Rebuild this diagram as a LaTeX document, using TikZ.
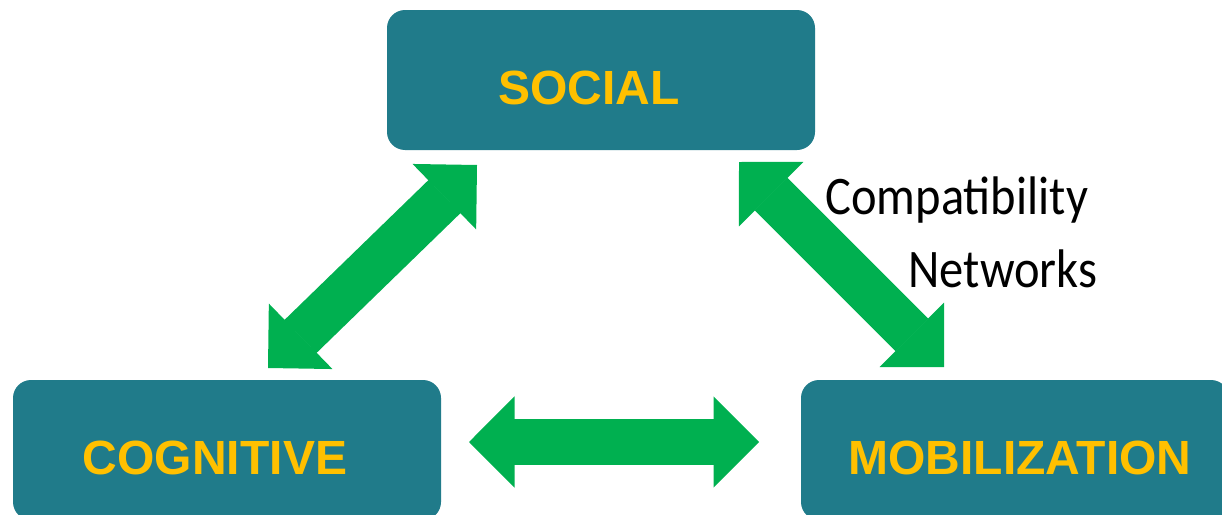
\documentclass[tikz,border=0pt]{standalone}
\usepackage{fontspec}
\setmainfont{Liberation Sans}
\newfontfamily\notefont{Carlito}
\usetikzlibrary{arrows.meta, positioning, calc}

\definecolor{boxteal}{RGB}{32,123,138}
\definecolor{labelgold}{RGB}{255,192,0}
\definecolor{linkgreen}{RGB}{0,176,80}

\tikzset{
  tipbig/.tip={Triangle[length=45.5pt, width=91pt, line width=1.5pt]},
}

\begin{document}
\begin{tikzpicture}[x=1pt, y=-1pt,
    area/.style={rectangle, rounded corners=18pt, fill=boxteal, minimum width=428pt, minimum height=140pt,
      text=labelgold, font=\fontsize{48}{56}\selectfont\bfseries, text height=49pt, text depth=0pt},
    link/.style={draw=linkgreen, line width=46pt, tipbig-tipbig},
    note/.style={anchor=base west, yscale=1.12, transform shape, font=\notefont\fontsize{48.5}{54}\selectfont}]
  \clip (0,0) rectangle (1222,514);
  \useasboundingbox (0,0) rectangle (1222,514);
  % the three areas
  \node[area] (social) at (601,80) {\hspace*{-24pt}SOCIAL};
  \node[area] (cognitive) at (227,450) {\hspace*{-24pt}COGNITIVE};
  \node[area] (mobilization) at (1015,450) {\hspace*{10pt}MOBILIZATION};
  % arrow ends
  \coordinate (sc) at (477,165);
  \coordinate (cs) at (268,368);
  \coordinate (sm) at (739,162);
  \coordinate (ms) at (944,367);
  \coordinate (cm) at (469,442);
  \coordinate (mc) at (759,442);
  \draw[link] (sc) -- (cs);
  \draw[link] (sm) -- (ms);
  \draw[link] (cm) -- (mc);
  % labels
  \node[note] (compat) at (822,214) {Compatibility};
  \node[note] (netw) at (905,287) {Networks};
\end{tikzpicture}
\end{document}
